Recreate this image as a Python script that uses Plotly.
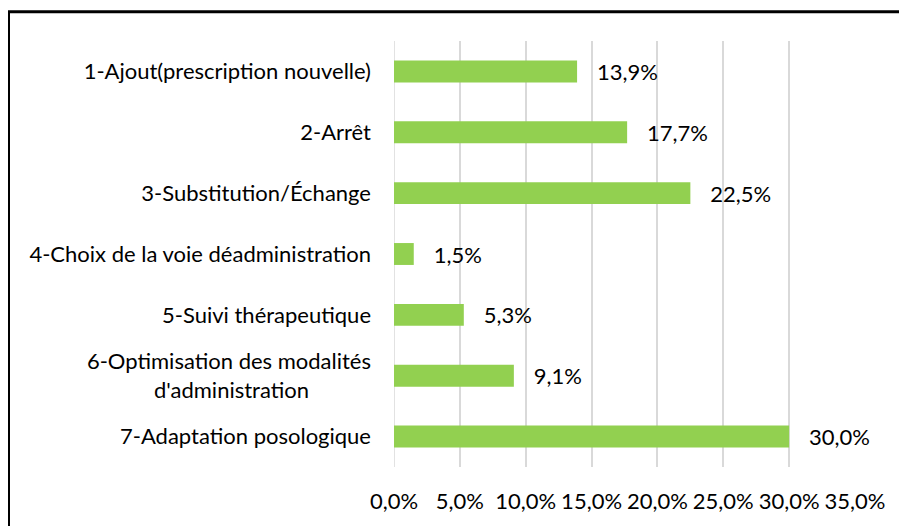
import plotly.graph_objects as go

categories = [
    "1-Ajout(prescription nouvelle)",
    "2-Arrêt",
    "3-Substitution/Échange",
    "4-Choix de la voie déadministration",
    "5-Suivi thérapeutique",
    "6-Optimisation des modalités<br>d'administration" + "\u00a0" * 11,
    "7-Adaptation posologique",
]
values = [13.9, 17.7, 22.5, 1.5, 5.3, 9.1, 30.0]
tick_vals = [0, 5, 10, 15, 20, 25, 30, 35]
tick_text = ["0,0%", "5,0%", "10,0%", "15,0%", "20,0%", "25,0%", "30,0%", "35,0%"]

labels = ["   " + f"{v:.1f}".replace(".", ",") + "%" for v in values]

W, H = 899, 518
ML, MR, MT, MB = 386, 52, 33, 56
FS = 22
FONT = "Lato"

fig = go.Figure(go.Bar(
    x=values, y=categories, orientation="h",
    marker=dict(color="#92D050", line=dict(width=0)),
    text=labels, textposition="outside", cliponaxis=False,
    constraintext="none",
    textfont=dict(size=FS, color="#000000", family=FONT),
))

pw = W - ML - MR
ph = H - MT - MB
fig.add_shape(type="rect", xref="paper", yref="paper",
              x0=(0.5 - ML) / pw, x1=(W + 10 - ML) / pw,
              y0=(H - MB - (H + 10)) / ph, y1=(H - MB - 3.5) / ph,
              line=dict(color="#000000", width=3), fillcolor="rgba(0,0,0,0)", layer="above")

fig.update_layout(
    width=W, height=H,
    margin=dict(l=ML, r=MR, t=MT, b=MB),
    paper_bgcolor="white", plot_bgcolor="white",
    bargap=0.64,
    showlegend=False,
    font=dict(family=FONT, size=FS, color="#000000"),
    xaxis=dict(range=[0, 35], tickvals=tick_vals, ticktext=tick_text,
               showgrid=True, gridcolor="#D9D9D9", gridwidth=1.5,
               zeroline=False, showline=False, ticks="",
               ticklabelstandoff=19, tickfont=dict(size=FS)),
    yaxis=dict(categoryorder="array", categoryarray=categories, autorange="reversed",
               showgrid=False, zeroline=False, showline=False, ticks="",
               ticklabelstandoff=22, tickfont=dict(size=FS)),
)
fig.add_shape(type="line", xref="x", yref="paper", x0=0, x1=0, y0=0, y1=1,
              line=dict(color="#D9D9D9", width=1.5), layer="below")

fig.write_html("out.html")
